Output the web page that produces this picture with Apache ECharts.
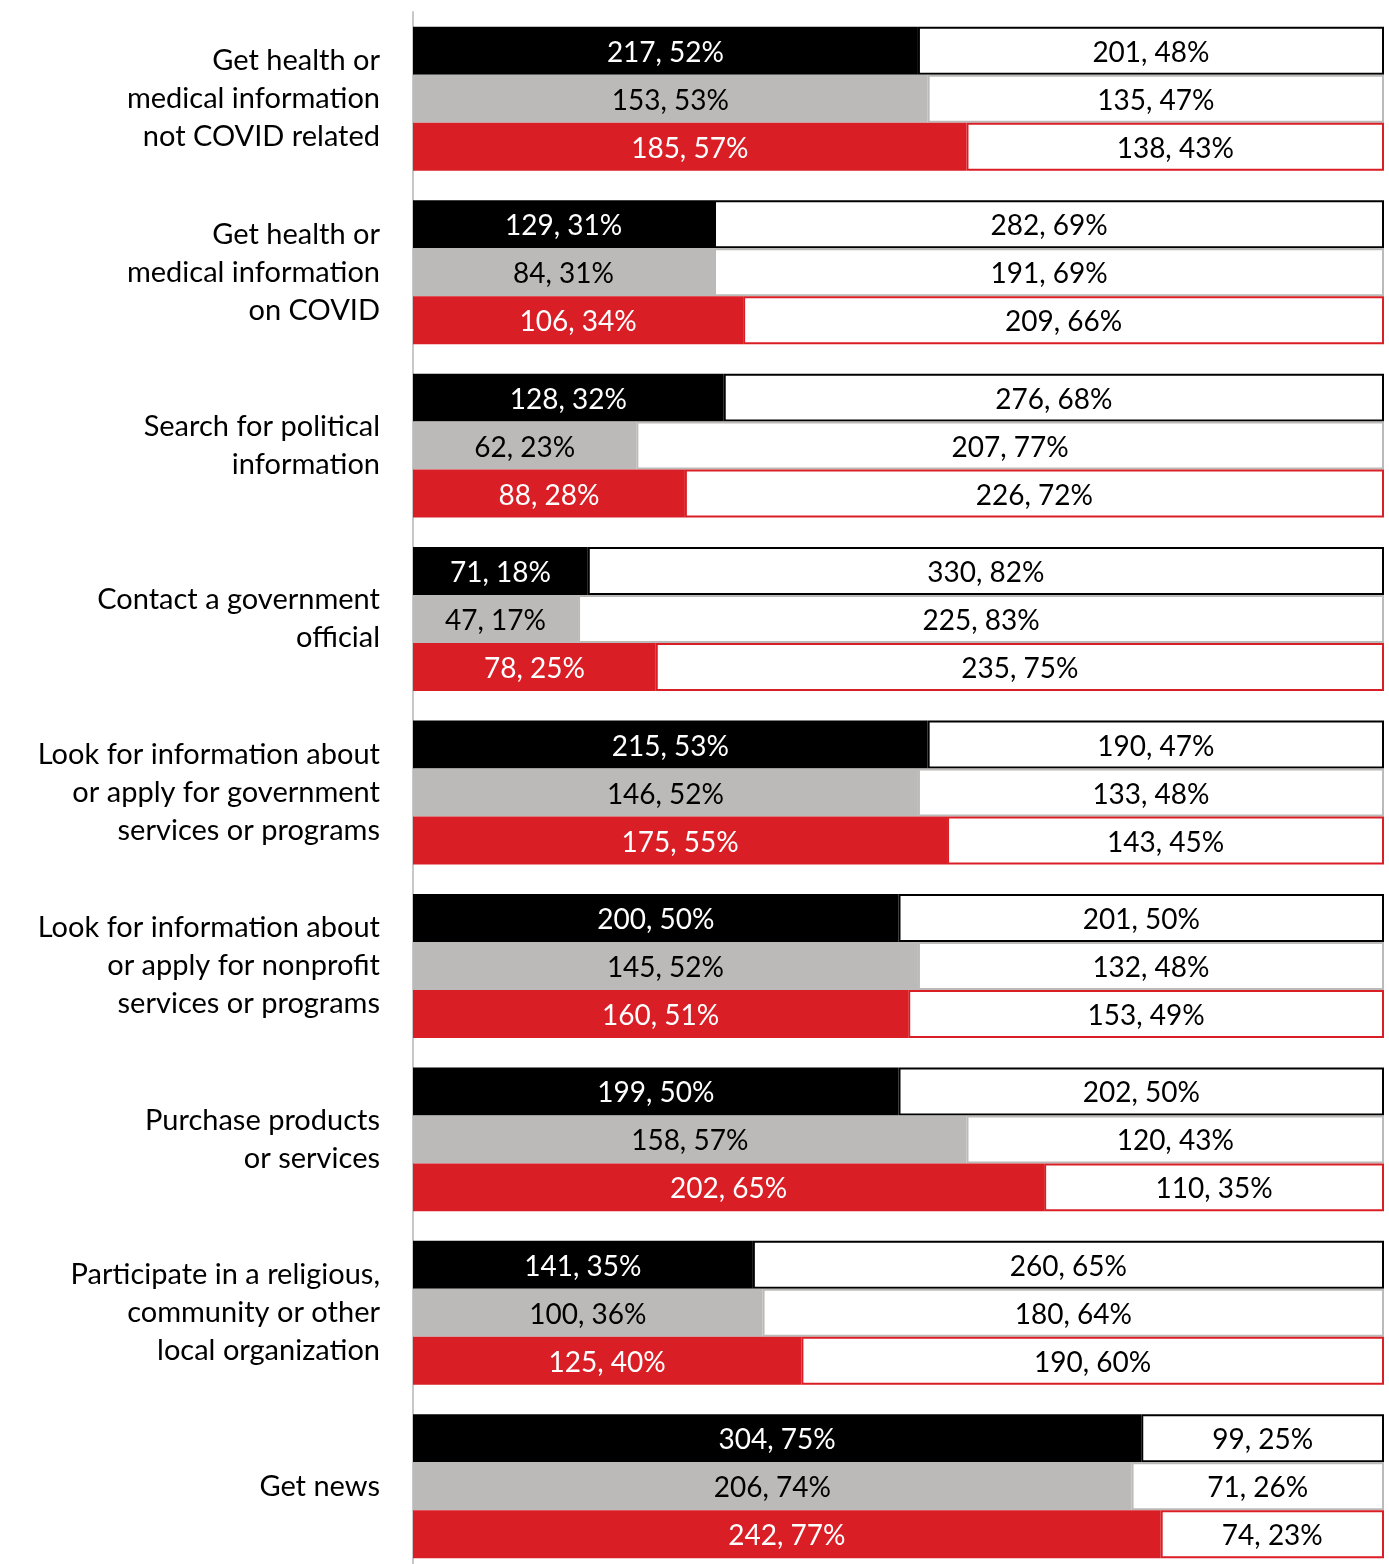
<!DOCTYPE html>
<html>
<head>
<meta charset="utf-8">
<script src="https://cdn.jsdelivr.net/npm/echarts@6/dist/echarts.min.js"></script>
<style>
  html, body { margin: 0; padding: 0; background: #fff; overflow: hidden; }
  #chart { width: 1389px; height: 1574px; }
</style>
</head>
<body>
<div id="chart"></div>
<script>
// Online activities, three respondent groups; each bar splits into "yes" (filled) and "no" (white).
const categories = [
  'Get health or\nmedical information\nnot COVID related',
  'Get health or\nmedical information\non COVID',
  'Search for political\ninformation',
  'Contact a government\nofficial',
  'Look for information about\nor apply for government\nservices or programs',
  'Look for information about\nor apply for nonprofit\nservices or programs',
  'Purchase products\nor services',
  'Participate in a religious,\ncommunity or other\nlocal organization',
  'Get news'
];

// Black group
const blackYesCount = [217, 129, 128, 71, 215, 200, 199, 141, 304];
const blackYesPct   = [52, 31, 32, 18, 53, 50, 50, 35, 75];
const blackNoCount  = [201, 282, 276, 330, 190, 201, 202, 260, 99];
const blackNoPct    = [48, 69, 68, 82, 47, 50, 50, 65, 25];

// Gray group
const grayYesCount = [153, 84, 62, 47, 146, 145, 158, 100, 206];
const grayYesPct   = [53, 31, 23, 17, 52, 52, 57, 36, 74];
const grayNoCount  = [135, 191, 207, 225, 133, 132, 120, 180, 71];
const grayNoPct    = [47, 69, 77, 83, 48, 48, 43, 64, 26];

// Red group
const redYesCount = [185, 106, 88, 78, 175, 160, 202, 125, 242];
const redYesPct   = [57, 34, 28, 25, 55, 51, 65, 40, 77];
const redNoCount  = [138, 209, 226, 235, 143, 153, 110, 190, 74];
const redNoPct    = [43, 66, 72, 75, 45, 49, 35, 60, 23];

const BLACK = '#000000';
const GRAY = '#bbbab8';
const RED = '#da1e26';
const FONT = 'Lato, "Noto Sans", sans-serif';

function label(counts, pcts, color) {
  return {
    show: true,
    position: 'inside',
    color: color,
    fontFamily: FONT,
    fontSize: 28,
    textBorderWidth: 0,
    offset: [0, 2],
    formatter: p => counts[p.dataIndex] + ', ' + pcts[p.dataIndex] + '%'
  };
}

function filled(name, stack, pcts, counts, fill, textColor) {
  return {
    name: name, type: 'bar', stack: stack,
    data: pcts,
    barGap: '0%', barCategoryGap: '17%',
    itemStyle: { color: fill },
    label: label(counts, pcts, textColor),
    emphasis: { disabled: true },
    silent: true
  };
}

function empty(name, stack, pcts, counts, border) {
  return {
    name: name, type: 'bar', stack: stack,
    data: pcts,
    barGap: '0%', barCategoryGap: '17%',
    itemStyle: { color: '#ffffff', borderColor: border, borderWidth: 2 },
    label: label(counts, pcts, '#000000'),
    emphasis: { disabled: true },
    silent: true
  };
}

const chart = echarts.init(document.getElementById('chart'), null, { renderer: 'canvas' });
chart.setOption({
  animation: false,
  backgroundColor: '#ffffff',
  grid: { left: 413, right: 5, top: 12, height: 1561, containLabel: false },
  xAxis: {
    type: 'value', min: 0, max: 100,
    show: false
  },
  yAxis: {
    type: 'category',
    data: categories,
    inverse: true,
    axisLine: { show: true, lineStyle: { color: '#c8c8c8', width: 2 } },
    axisTick: { show: false },
    splitLine: { show: false },
    axisLabel: {
      margin: 33,
      color: '#000000',
      fontFamily: FONT,
      fontSize: 29,
      lineHeight: 38,
      padding: [6, 0, 0, 0],
      align: 'right'
    }
  },
  series: [
    filled('Black yes', 'black', blackYesPct, blackYesCount, BLACK, '#ffffff'),
    empty('Black no', 'black', blackNoPct, blackNoCount, BLACK),
    filled('Gray yes', 'gray', grayYesPct, grayYesCount, GRAY, '#000000'),
    empty('Gray no', 'gray', grayNoPct, grayNoCount, GRAY),
    filled('Red yes', 'red', redYesPct, redYesCount, RED, '#ffffff'),
    empty('Red no', 'red', redNoPct, redNoCount, RED)
  ]
});
</script>
</body>
</html>
